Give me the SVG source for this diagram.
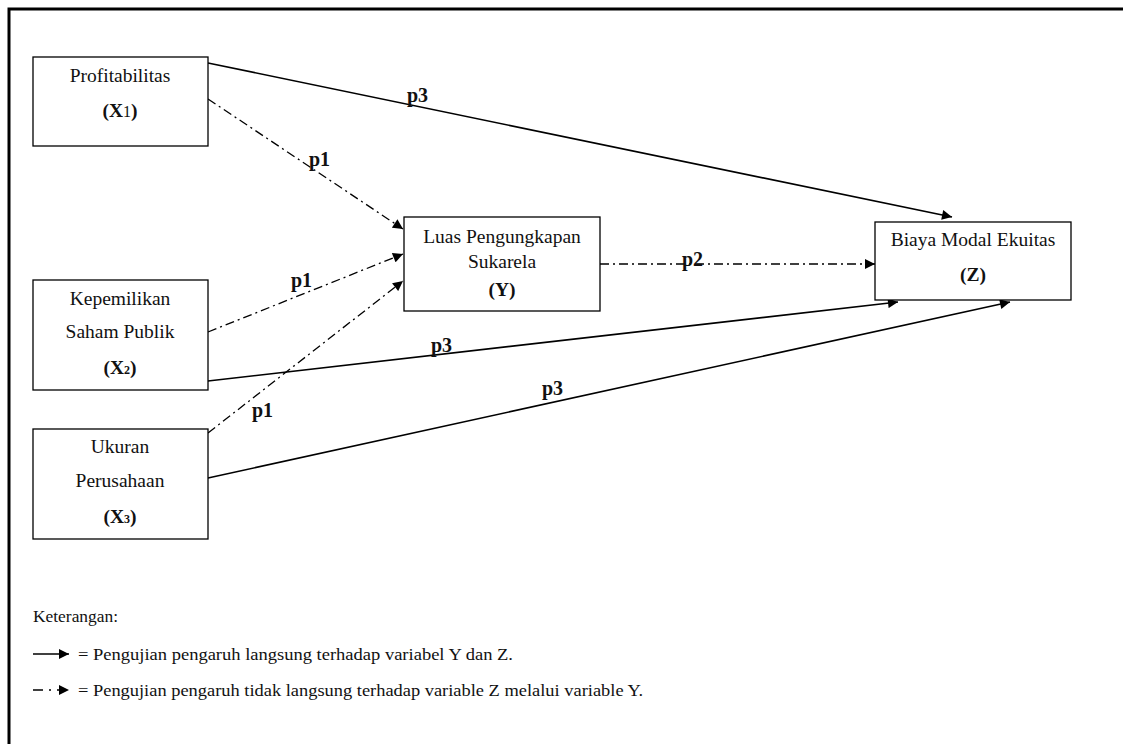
<svg xmlns="http://www.w3.org/2000/svg" width="1123" height="744" viewBox="0 0 1123 744">
<defs>
<style>
.frame{fill:none;stroke:#000;stroke-width:3}
.box{fill:#fff;stroke:#000;stroke-width:1.3}
.t{font-family:"Liberation Serif","Times New Roman",serif;font-size:19.5px;fill:#111;text-anchor:middle}
.b{font-weight:bold}
.lbl{font-family:"Liberation Serif","Times New Roman",serif;font-size:20px;font-weight:bold;fill:#111}
.leg{font-family:"Liberation Serif","Times New Roman",serif;font-size:17.5px;fill:#111}
.solid{fill:none;stroke:#000;stroke-width:1.6;marker-end:url(#ah)}
.dash{fill:none;stroke:#000;stroke-width:1.3;stroke-dasharray:9 4 2 4;marker-end:url(#ah)}
</style>
<marker id="ah" viewBox="0 0 10 10" refX="10" refY="5" markerWidth="11" markerHeight="10" markerUnits="userSpaceOnUse" orient="auto">
<path d="M0,0 L10,5 L0,10 Z" fill="#000"/>
</marker>
</defs>
<rect width="1123" height="744" fill="#fff"/>
<rect class="frame" x="9" y="9" width="1130" height="750"/>

<g id="connectors">
<line class="solid" x1="208" y1="63" x2="952" y2="217"/>
<line class="dash" x1="208" y1="99" x2="403" y2="229"/>
<line class="dash" x1="208" y1="332" x2="403" y2="254"/>
<line class="dash" x1="208" y1="433" x2="403" y2="281"/>
<line class="solid" x1="208" y1="381" x2="898" y2="302"/>
<line class="solid" x1="208" y1="478" x2="1010" y2="302"/>
<line class="dash" x1="600" y1="264" x2="875" y2="264"/>
<text class="lbl" x="407" y="102">p3</text>
<text class="lbl" x="309" y="166">p1</text>
<text class="lbl" x="291" y="287">p1</text>
<text class="lbl" x="252" y="417">p1</text>
<text class="lbl" x="431" y="352">p3</text>
<text class="lbl" x="542" y="395">p3</text>
<text class="lbl" x="682" y="266">p2</text>
</g>

<g id="X1">
<rect class="box" x="33" y="57" width="175" height="89"/>
<text class="t" x="120" y="82">Profitabilitas</text>
<text class="t b" x="120" y="117">(X<tspan font-weight="normal" font-size="16">1</tspan>)</text>
</g>
<g id="X2">
<rect class="box" x="33" y="280" width="175" height="110"/>
<text class="t" x="120" y="305">Kepemilikan</text>
<text class="t" x="120" y="338">Saham Publik</text>
<text class="t b" x="120" y="374">(X<tspan font-size="12">2</tspan>)</text>
</g>
<g id="X3">
<rect class="box" x="33" y="429" width="175" height="110"/>
<text class="t" x="120" y="453">Ukuran</text>
<text class="t" x="120" y="487">Perusahaan</text>
<text class="t b" x="120" y="523">(X<tspan font-size="12">3</tspan>)</text>
</g>
<g id="Y">
<rect class="box" x="404" y="217" width="196" height="94"/>
<text class="t" x="502" y="243">Luas Pengungkapan</text>
<text class="t" x="502" y="268">Sukarela</text>
<text class="t b" x="502" y="296">(Y)</text>
</g>
<g id="Z">
<rect class="box" x="875" y="222" width="196" height="78"/>
<text class="t" x="973" y="246">Biaya Modal Ekuitas</text>
<text class="t b" x="973" y="281">(Z)</text>
</g>

<g id="legend">
<text class="leg" x="33" y="622" textLength="85" lengthAdjust="spacingAndGlyphs">Keterangan:</text>
<line class="solid" x1="33" y1="654" x2="69" y2="654"/>
<text class="leg" x="78" y="660" textLength="435" lengthAdjust="spacingAndGlyphs">= Pengujian pengaruh langsung terhadap variabel Y dan Z.</text>
<line class="dash" x1="33" y1="690" x2="69" y2="690" style="stroke-dasharray:10 6 2 6"/>
<text class="leg" x="78" y="696" textLength="565" lengthAdjust="spacingAndGlyphs">= Pengujian pengaruh tidak langsung terhadap variable Z melalui variable Y.</text>
</g>
</svg>
